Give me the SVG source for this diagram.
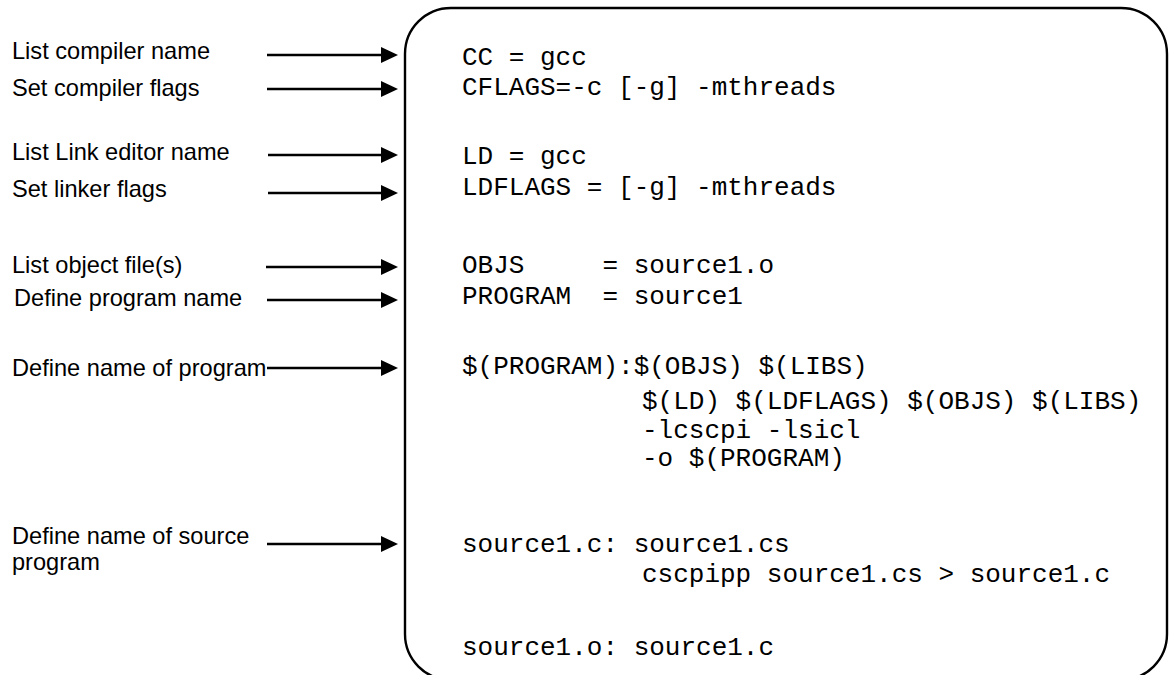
<svg xmlns="http://www.w3.org/2000/svg" width="1169" height="675" viewBox="0 0 1169 675">
<style>
.lbl{font-family:"Liberation Sans",Arial,sans-serif;font-size:23.6px;fill:#000}
.code{font-family:"Liberation Mono","Courier New",monospace;font-size:26px;fill:#000;white-space:pre}
.conn{stroke:#000;stroke-width:2.5;fill:none}
</style>
<defs>
<marker id="ah" markerUnits="userSpaceOnUse" markerWidth="18" markerHeight="17" refX="0" refY="8" orient="auto" viewBox="0 0 18 17">
<path d="M0,0 L17,8 L0,16 z" fill="#000"/>
</marker>
</defs>
<rect width="1169" height="675" fill="#fff"/>
<g id="labels">
<text class="lbl" x="12" y="59">List compiler name</text>
<text class="lbl" x="12" y="96">Set compiler flags</text>
<text class="lbl" x="12" y="160">List Link editor name</text>
<text class="lbl" x="12" y="197">Set linker flags</text>
<text class="lbl" x="12" y="273">List object file(s)</text>
<text class="lbl" x="14" y="306">Define program name</text>
<text class="lbl" x="12" y="376">Define name of program</text>
<text class="lbl" x="12" y="544">Define name of source</text>
<text class="lbl" x="12" y="570">program</text>
</g>
<g id="makefile">
<rect x="405" y="8" width="762" height="672" rx="46" ry="46" fill="none" stroke="#000" stroke-width="2.4"/>
<text class="code" x="462" y="65">CC = gcc</text>
<text class="code" x="462" y="95">CFLAGS=-c [-g] -mthreads</text>
<text class="code" x="462" y="164">LD = gcc</text>
<text class="code" x="462" y="195">LDFLAGS = [-g] -mthreads</text>
<text class="code" x="462" y="273">OBJS     = source1.o</text>
<text class="code" x="462" y="304">PROGRAM  = source1</text>
<text class="code" x="462" y="374">$(PROGRAM):$(OBJS) $(LIBS)</text>
<text class="code" x="642" y="409">$(LD) $(LDFLAGS) $(OBJS) $(LIBS)</text>
<text class="code" x="642" y="438">-lcscpi -lsicl</text>
<text class="code" x="642" y="466">-o $(PROGRAM)</text>
<text class="code" x="462" y="552">source1.c: source1.cs</text>
<text class="code" x="642" y="582">cscpipp source1.cs &gt; source1.c</text>
<text class="code" x="462" y="655">source1.o: source1.c</text>
</g>
<g id="connectors">
<line class="conn" x1="267" y1="55" x2="381" y2="55" marker-end="url(#ah)"/>
<line class="conn" x1="267" y1="89" x2="381" y2="89" marker-end="url(#ah)"/>
<line class="conn" x1="268" y1="155" x2="381" y2="155" marker-end="url(#ah)"/>
<line class="conn" x1="268" y1="193" x2="381" y2="193" marker-end="url(#ah)"/>
<line class="conn" x1="266" y1="267" x2="381" y2="267" marker-end="url(#ah)"/>
<line class="conn" x1="267" y1="300" x2="381" y2="300" marker-end="url(#ah)"/>
<line class="conn" x1="267" y1="368" x2="381" y2="368" marker-end="url(#ah)"/>
<line class="conn" x1="267" y1="544" x2="381" y2="544" marker-end="url(#ah)"/>
</g>
</svg>
